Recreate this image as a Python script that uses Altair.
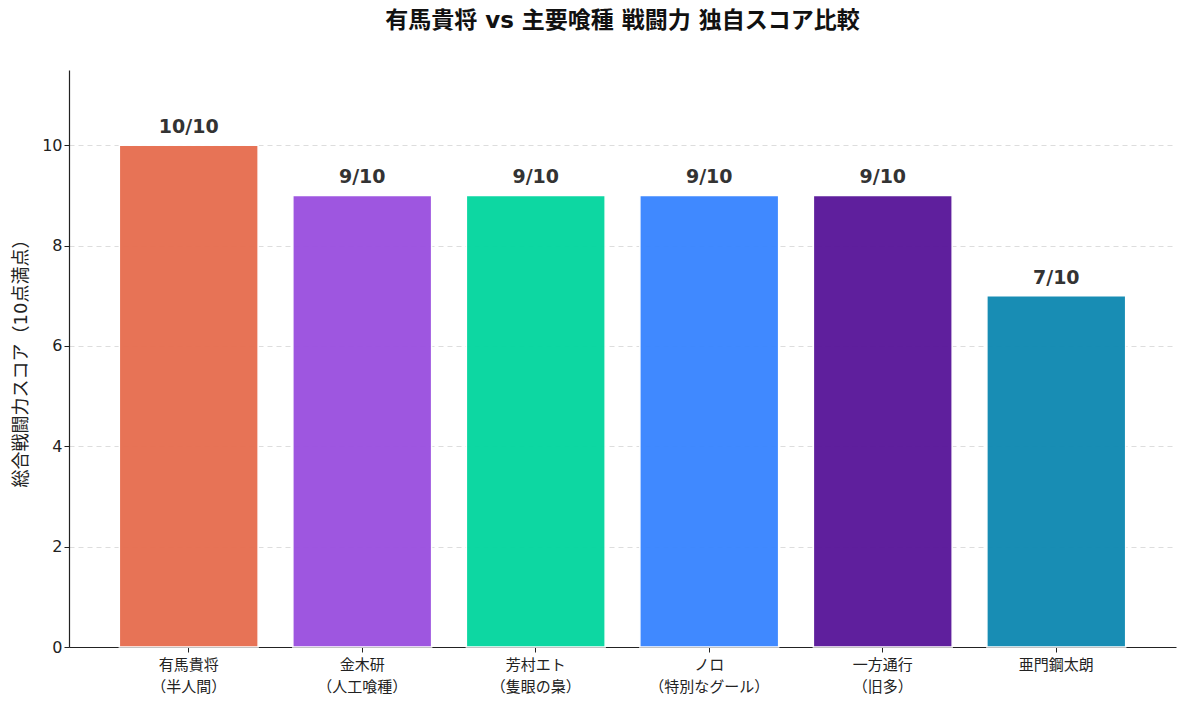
import pandas as pd
import altair as alt

# characters and their score (out of 10)
names = [
    "有馬貴将\n（半人間）",
    "金木研\n（人工喰種）",
    "芳村エト\n（隻眼の梟）",
    "ノロ\n（特別なグール）",
    "一方通行\n（旧多）",
    "亜門鋼太朗",
]
scores = [10, 9, 9, 9, 9, 7]
colors = ["#E76F51", "#9B51E0", "#06D6A0", "#3A86FF", "#5A189A", "#118AB2"]

df = pd.DataFrame({"name": names, "score": scores})
df["label"] = df["score"].astype(str) + "/10"

FONT = "DejaVu Sans, Noto Sans CJK JP, sans-serif"

x = alt.X(
    "name:N",
    sort=names,
    title=None,
    scale=alt.Scale(paddingInner=0.2, paddingOuter=0.29),
    axis=alt.Axis(
        labelAngle=0,
        labelExpr="split(datum.label, '\\n')",
        labelFontSize=15,
        labelLineHeight=22,
        labelColor="#222",
        labelPadding=5,
        tickSize=5,
        tickColor="#222",
        domainColor="#222",
        domainWidth=1.2,
        grid=False,
    ),
)

bars = alt.Chart(df).mark_bar(stroke="white", strokeWidth=1.5, opacity=0.97).encode(
    x=x,
    y=alt.Y(
        "score:Q",
        title="総合戦闘力スコア（10点満点）",
        scale=alt.Scale(domain=[0, 11.5], nice=False),
        axis=alt.Axis(
            values=[0, 2, 4, 6, 8, 10],
            labelFontSize=16,
            labelColor="#222",
            titleFontSize=18,
            titleFontWeight="normal",
            titleColor="#222",
            titlePadding=11,
            tickSize=5,
            tickColor="#222",
            domainColor="#222",
            domainWidth=1.2,
            grid=True,
            gridColor="#dddddd",
            gridDash=[5, 4],
            gridWidth=1,
        ),
    ),
    color=alt.Color("name:N", sort=names, scale=alt.Scale(domain=names, range=colors), legend=None),
)

labels = alt.Chart(df).mark_text(
    baseline="bottom", dy=-8, fontSize=19, fontWeight="bold", color="#333333", font=FONT
).encode(x=x, y="score:Q", text="label:N")

chart = (bars + labels).properties(
    width=1107,
    height=577,
    autosize=alt.AutoSizeParams(type="none"),
    padding={"left": 61, "top": 62, "right": 3, "bottom": 55},
    title=alt.TitleParams(
        "有馬貴将 vs 主要喰種 戦闘力 独自スコア比較",
        fontSize=23,
        fontWeight="bold",
        color="#111",
        offset=37,
        anchor="middle",
    ),
).configure(font=FONT).configure_view(stroke=None)

chart.save("out.html", embed_options={"renderer": "svg", "actions": False})
